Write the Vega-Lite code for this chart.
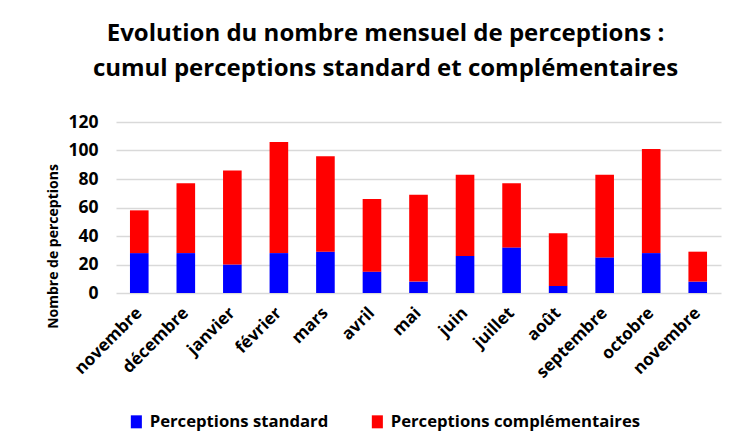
{
  "$schema": "https://vega.github.io/schema/vega-lite/v6.json",
  "width": 605,
  "height": 171,
  "autosize": {"type": "none"},
  "padding": {"left": 116, "top": 122, "right": 11, "bottom": 151},
  "background": "white",
  "config": {
    "font": "Open Sans",
    "view": {"stroke": null}
  },
  "title": {
    "text": ["Evolution du nombre mensuel de perceptions :", "cumul perceptions standard et complémentaires"],
    "fontSize": 24,
    "fontWeight": "bold",
    "color": "#000000",
    "anchor": "middle",
    "dx": -33,
    "lineHeight": 35,
    "offset": 32
  },
  "data": {
    "values": [
      {"rang": 1, "mois": "novembre", "serie": "Perceptions standard", "valeur": 28},
      {"rang": 1, "mois": "novembre", "serie": "Perceptions complémentaires", "valeur": 30},
      {"rang": 2, "mois": "décembre", "serie": "Perceptions standard", "valeur": 28},
      {"rang": 2, "mois": "décembre", "serie": "Perceptions complémentaires", "valeur": 49},
      {"rang": 3, "mois": "janvier", "serie": "Perceptions standard", "valeur": 20},
      {"rang": 3, "mois": "janvier", "serie": "Perceptions complémentaires", "valeur": 66},
      {"rang": 4, "mois": "février", "serie": "Perceptions standard", "valeur": 28},
      {"rang": 4, "mois": "février", "serie": "Perceptions complémentaires", "valeur": 78},
      {"rang": 5, "mois": "mars", "serie": "Perceptions standard", "valeur": 29},
      {"rang": 5, "mois": "mars", "serie": "Perceptions complémentaires", "valeur": 67},
      {"rang": 6, "mois": "avril", "serie": "Perceptions standard", "valeur": 15},
      {"rang": 6, "mois": "avril", "serie": "Perceptions complémentaires", "valeur": 51},
      {"rang": 7, "mois": "mai", "serie": "Perceptions standard", "valeur": 8},
      {"rang": 7, "mois": "mai", "serie": "Perceptions complémentaires", "valeur": 61},
      {"rang": 8, "mois": "juin", "serie": "Perceptions standard", "valeur": 26},
      {"rang": 8, "mois": "juin", "serie": "Perceptions complémentaires", "valeur": 57},
      {"rang": 9, "mois": "juillet", "serie": "Perceptions standard", "valeur": 32},
      {"rang": 9, "mois": "juillet", "serie": "Perceptions complémentaires", "valeur": 45},
      {"rang": 10, "mois": "août", "serie": "Perceptions standard", "valeur": 5},
      {"rang": 10, "mois": "août", "serie": "Perceptions complémentaires", "valeur": 37},
      {"rang": 11, "mois": "septembre", "serie": "Perceptions standard", "valeur": 25},
      {"rang": 11, "mois": "septembre", "serie": "Perceptions complémentaires", "valeur": 58},
      {"rang": 12, "mois": "octobre", "serie": "Perceptions standard", "valeur": 28},
      {"rang": 12, "mois": "octobre", "serie": "Perceptions complémentaires", "valeur": 73},
      {"rang": 13, "mois": "novembre", "serie": "Perceptions standard", "valeur": 8},
      {"rang": 13, "mois": "novembre", "serie": "Perceptions complémentaires", "valeur": 21}
    ]
  },
  "mark": {"type": "bar"},
  "encoding": {
    "x": {
      "field": "rang",
      "type": "ordinal",
      "scale": {"paddingInner": 0.6, "paddingOuter": 0.3},
      "axis": {
        "title": null,
        "labelExpr": "['novembre','décembre','janvier','février','mars','avril','mai','juin','juillet','août','septembre','octobre','novembre'][datum.value - 1]",
        "labelAngle": -45,
        "labelAlign": "right",
        "labelBaseline": "middle",
        "labelFontSize": 17,
        "labelFontWeight": "bold",
        "labelColor": "#000000",
        "labelPadding": 17,
        "domain": false,
        "ticks": false
      }
    },
    "y": {
      "field": "valeur",
      "type": "quantitative",
      "stack": "zero",
      "scale": {"domain": [0, 120], "nice": false},
      "axis": {
        "title": "Nombre de perceptions",
        "titleFontSize": 14,
        "titleFontWeight": "bold",
        "titleColor": "#000000",
        "titleAngle": 270,
        "titleAlign": "center",
        "titleBaseline": "middle",
        "titleX": -63,
        "titleY": 124,
        "values": [0, 20, 40, 60, 80, 100, 120],
        "labelFontSize": 17.5,
        "labelFontWeight": "bold",
        "labelColor": "#000000",
        "labelPadding": 18,
        "domain": false,
        "ticks": false,
        "grid": true,
        "gridColor": "#d9d9d9",
        "gridWidth": 1.5
      }
    },
    "color": {
      "field": "serie",
      "type": "nominal",
      "scale": {
        "domain": ["Perceptions standard", "Perceptions complémentaires"],
        "range": ["#0000FF", "#FF0000"]
      },
      "legend": {
        "title": null,
        "orient": "none",
        "direction": "horizontal",
        "legendX": 12,
        "legendY": 291,
        "symbolType": "M-0.85,-1H0.85V1H-0.85Z",
        "symbolSize": 169,
        "symbolStrokeWidth": 0,
        "labelFontSize": 16.7,
        "labelFontWeight": "bold",
        "labelColor": "#000000",
        "labelOffset": 5,
        "columnPadding": 40,
        "labelLimit": 400
      }
    },
    "order": {"field": "serie", "sort": "descending"}
  }
}
